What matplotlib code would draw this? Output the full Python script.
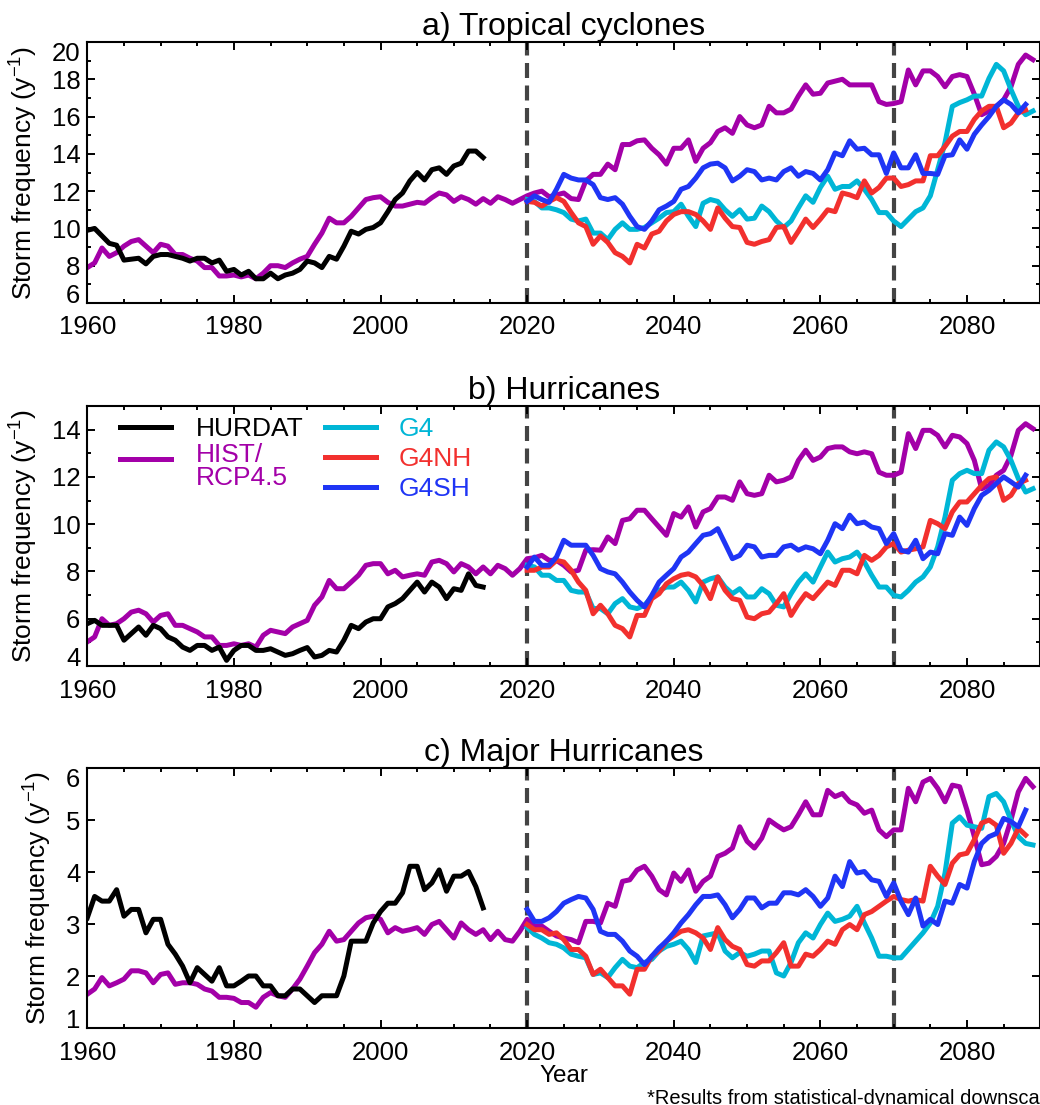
"""
Storm frequency under HIST/RCP4.5 and G4 geoengineering runs.
Three panels: tropical cyclones, hurricanes, major hurricanes.
"""
import numpy as np
import matplotlib
matplotlib.use("Agg")
import matplotlib.pyplot as plt
from matplotlib.legend_handler import HandlerLine2D
from matplotlib.lines import Line2D

plt.rcParams['font.family'] = ['Liberation Sans', 'DejaVu Sans']
plt.rcParams['mathtext.fontset'] = 'custom'
plt.rcParams['mathtext.rm'] = 'Liberation Sans'

YEARS_OBS = np.arange(1960, 2015)
YEARS_HIST = np.arange(1960, 2090)
YEARS_G4 = np.arange(2020, 2090)
YEARS_G4HEM = np.arange(2020, 2089)

# a) tropical cyclones
TC_HURDAT = [9.9, 10.0, 9.6, 9.2, 9.1, 8.3, 8.35, 8.4, 8.1, 8.5,
             8.6, 8.6, 8.5, 8.4, 8.25, 8.4, 8.4, 8.15, 8.3, 7.7,
             7.8, 7.5, 7.7, 7.3, 7.3, 7.6, 7.3, 7.5, 7.6, 7.8,
             8.25, 8.15, 7.9, 8.5, 8.35, 9.05, 9.85, 9.7, 9.95, 10.05,
             10.3, 10.9, 11.55, 11.9, 12.55, 13.0, 12.6, 13.15, 13.25, 12.9,
             13.35, 13.5, 14.15, 14.15, 13.8]
TC_HIST = [7.9, 8.15, 8.95, 8.5, 8.7, 9.05, 9.3, 9.4, 9.05, 8.7,
           9.15, 9.05, 8.6, 8.6, 8.4, 8.25, 7.9, 7.9, 7.45, 7.45,
           7.5, 7.4, 7.5, 7.3, 7.6, 8.0, 8.0, 7.9, 8.15, 8.35,
           8.5, 9.15, 9.75, 10.55, 10.3, 10.3, 10.65, 11.1, 11.55, 11.65,
           11.7, 11.4, 11.2, 11.2, 11.3, 11.4, 11.35, 11.65, 11.9, 11.8,
           11.45, 11.7, 11.55, 11.3, 11.6, 11.35, 11.7, 11.55, 11.35, 11.55,
           11.75, 11.9, 12.0, 11.7, 11.8, 11.9, 11.6, 11.55, 12.55, 12.9,
           12.9, 13.45, 13.15, 14.5, 14.5, 14.7, 14.75, 14.3, 13.95, 13.45,
           14.3, 14.3, 14.75, 13.6, 14.3, 14.6, 15.2, 15.4, 15.1, 16.0,
           15.55, 15.4, 15.55, 16.55, 16.2, 16.2, 16.4, 17.1, 17.7, 17.2,
           17.25, 17.8, 17.9, 18.0, 17.7, 17.7, 17.7, 17.7, 16.8, 16.65,
           16.7, 16.8, 18.5, 17.7, 18.45, 18.45, 18.15, 17.6, 18.15, 18.25,
           18.15, 17.2, 16.1, 16.3, 16.55, 16.9, 17.6, 18.8, 19.3, 19.05]
TC_G4 = [11.55, 11.45, 11.1, 11.1, 11.0, 10.85, 10.5, 10.4, 10.5, 9.75,
         9.75, 9.4, 9.95, 10.3, 9.95, 9.95, 10.05, 10.3, 10.55, 10.85,
         10.9, 11.3, 10.65, 10.1, 11.35, 11.55, 11.45, 11.0, 10.65, 11.0,
         10.5, 10.55, 11.2, 10.9, 10.4, 10.05, 10.4, 11.1, 11.75, 11.4,
         12.2, 12.8, 12.1, 12.25, 12.25, 12.55, 12.1, 11.55, 10.85, 10.85,
         10.4, 10.1, 10.5, 10.9, 11.1, 11.75, 13.15, 14.6, 16.55, 16.75,
         16.9, 17.1, 17.1, 18.05, 18.8, 18.45, 17.45, 16.55, 16.1, 16.3]
TC_G4NH = [11.45, 11.4, 11.2, 11.45, 11.65, 11.45, 10.85, 10.3, 10.1, 9.15,
           9.6, 9.25, 8.7, 8.5, 8.15, 9.15, 8.95, 9.7, 9.85, 10.4,
           10.75, 10.9, 10.9, 10.75, 10.4, 9.95, 11.1, 10.55, 10.1, 10.05,
           9.25, 9.15, 9.3, 9.4, 10.05, 10.1, 9.25, 9.85, 10.5, 10.05,
           10.5, 11.0, 10.9, 11.9, 11.8, 11.65, 12.55, 11.9, 12.2, 12.7,
           12.7, 12.25, 12.35, 12.55, 12.55, 13.9, 13.9, 14.4, 14.95, 15.2,
           15.2, 15.85, 16.3, 16.55, 16.55, 15.4, 15.65, 16.2, 16.35]
TC_G4SH = [11.45, 11.75, 11.55, 11.4, 12.1, 12.9, 12.7, 12.6, 12.6, 12.35,
           11.65, 11.55, 11.65, 11.3, 10.65, 10.1, 9.95, 10.4, 11.0, 11.2,
           11.45, 12.1, 12.25, 12.7, 13.25, 13.45, 13.5, 13.25, 12.55, 12.8,
           13.15, 13.05, 12.6, 12.7, 12.6, 13.05, 13.25, 12.8, 13.05, 12.95,
           12.6, 13.15, 14.05, 13.9, 14.7, 14.25, 14.3, 13.95, 13.95, 12.95,
           14.05, 13.25, 13.25, 13.95, 12.95, 12.95, 12.9, 13.9, 13.95, 14.75,
           14.25, 15.05, 15.55, 16.0, 16.55, 16.9, 16.65, 16.2, 16.65]

# b) hurricanes
HU_HURDAT = [5.79, 5.93, 5.72, 5.72, 5.72, 5.09, 5.37, 5.65, 5.3, 5.72,
             5.58, 5.23, 5.09, 4.8, 4.66, 4.87, 4.87, 4.66, 4.8, 4.24,
             4.66, 4.87, 4.87, 4.66, 4.66, 4.73, 4.59, 4.45, 4.52, 4.66,
             4.78, 4.38, 4.45, 4.66, 4.59, 5.09, 5.72, 5.58, 5.86, 6.0,
             6.0, 6.5, 6.64, 6.85, 7.2, 7.55, 7.13, 7.55, 7.34, 6.85,
             7.27, 7.2, 7.9, 7.41, 7.34]
HU_HIST = [5.02, 5.23, 6.0, 5.72, 5.79, 6.0, 6.28, 6.36, 6.21, 5.86,
           6.14, 6.21, 5.72, 5.72, 5.58, 5.44, 5.23, 5.23, 4.87, 4.87,
           4.94, 4.87, 4.94, 4.8, 5.3, 5.51, 5.44, 5.37, 5.65, 5.79,
           5.93, 6.57, 6.92, 7.62, 7.27, 7.27, 7.55, 7.84, 8.26, 8.33,
           8.33, 7.9, 8.05, 7.77, 7.84, 7.9, 7.84, 8.4, 8.47, 8.33,
           7.98, 8.33, 8.19, 7.9, 8.19, 7.9, 8.26, 8.12, 7.84, 8.12,
           8.54, 8.58, 8.68, 8.47, 8.47, 8.26, 7.98, 8.05, 8.9, 8.92,
           8.9, 9.46, 9.18, 10.16, 10.23, 10.59, 10.59, 10.23, 9.88, 9.53,
           10.45, 10.3, 10.73, 9.88, 10.52, 10.66, 11.15, 11.15, 11.01, 11.79,
           11.29, 11.22, 11.29, 12.07, 11.79, 11.86, 12.0, 12.7, 13.13, 12.7,
           12.84, 13.2, 13.27, 13.27, 13.06, 12.98, 13.06, 12.98, 12.2, 12.07,
           12.07, 12.2, 13.83, 13.2, 13.97, 13.97, 13.76, 13.27, 13.76, 13.69,
           13.41, 12.7, 11.5, 11.64, 12.07, 12.28, 12.91, 13.97, 14.25, 14.04]
HU_G4 = [8.26, 8.19, 7.84, 7.84, 7.62, 7.62, 7.2, 7.13, 7.13, 6.43,
         6.43, 6.21, 6.64, 6.85, 6.5, 6.43, 6.57, 6.92, 7.2, 7.34,
         7.34, 7.55, 7.2, 6.71, 7.55, 7.69, 7.77, 7.34, 7.06, 7.27,
         6.92, 6.92, 7.27, 7.06, 6.57, 6.5, 7.06, 7.55, 7.9, 7.55,
         8.19, 8.82, 8.4, 8.54, 8.61, 8.82, 8.4, 7.84, 7.34, 7.34,
         6.99, 6.92, 7.2, 7.55, 7.77, 8.19, 9.04, 10.3, 11.86, 12.14,
         12.28, 12.14, 12.14, 13.13, 13.48, 13.27, 12.7, 11.93, 11.36, 11.5]
HU_G4NH = [8.05, 8.05, 8.19, 8.19, 8.47, 8.4, 8.05, 7.55, 7.2, 6.21,
           6.57, 6.21, 5.72, 5.58, 5.23, 6.14, 6.14, 6.85, 7.06, 7.48,
           7.69, 7.84, 7.9, 7.77, 7.41, 6.85, 7.77, 7.2, 6.85, 6.78,
           6.07, 6.0, 6.21, 6.28, 6.64, 7.06, 6.14, 6.64, 7.06, 6.85,
           7.2, 7.55, 7.41, 8.05, 8.05, 7.9, 8.68, 8.47, 8.68, 9.04,
           9.18, 8.82, 8.9, 8.96, 9.04, 10.16, 10.02, 9.81, 10.52, 10.94,
           10.94, 11.29, 11.64, 11.93, 12.0, 11.01, 11.22, 11.72, 11.86]
HU_G4SH = [8.19, 8.61, 8.26, 8.26, 8.61, 9.32, 9.11, 9.11, 9.11, 8.68,
           8.12, 7.98, 7.9, 7.55, 7.13, 6.78, 6.5, 6.99, 7.55, 7.84,
           8.12, 8.61, 8.82, 9.18, 9.53, 9.6, 9.81, 9.18, 8.54, 8.68,
           9.11, 9.04, 8.61, 8.68, 8.68, 9.04, 9.11, 8.9, 9.04, 8.96,
           8.75, 9.32, 10.02, 9.81, 10.38, 10.02, 10.09, 9.88, 9.81, 9.18,
           9.6, 8.9, 8.82, 9.32, 8.54, 8.82, 8.75, 9.6, 9.53, 10.3,
           9.95, 10.66, 11.22, 11.43, 11.72, 12.0, 11.79, 11.57, 12.07]

# c) major hurricanes
MH_HURDAT = [3.12, 3.53, 3.44, 3.44, 3.66, 3.15, 3.28, 3.28, 2.83, 3.09,
             3.09, 2.61, 2.42, 2.19, 1.87, 2.16, 2.03, 1.9, 2.16, 1.81,
             1.81, 1.9, 2.0, 2.0, 1.81, 1.81, 1.62, 1.62, 1.75, 1.75,
             1.62, 1.49, 1.62, 1.62, 1.62, 2.0, 2.67, 2.67, 2.67, 3.02,
             3.24, 3.4, 3.4, 3.6, 4.11, 4.11, 3.66, 3.79, 4.04, 3.63,
             3.92, 3.92, 4.01, 3.72, 3.31]
MH_HIST = [1.65, 1.75, 1.97, 1.81, 1.87, 1.94, 2.1, 2.1, 2.06, 1.87,
           2.03, 2.06, 1.84, 1.87, 1.87, 1.84, 1.75, 1.71, 1.59, 1.59,
           1.57, 1.49, 1.49, 1.4, 1.59, 1.68, 1.62, 1.59, 1.75, 1.94,
           2.19, 2.45, 2.61, 2.86, 2.67, 2.7, 2.86, 3.02, 3.12, 3.15,
           3.09, 2.83, 2.93, 2.86, 2.89, 2.93, 2.8, 2.99, 3.05, 2.89,
           2.73, 3.02, 2.89, 2.8, 2.89, 2.7, 2.86, 2.7, 2.67, 2.86,
           3.09, 2.96, 2.96, 2.86, 2.77, 2.73, 2.7, 2.64, 3.05, 3.05,
           3.02, 3.4, 3.34, 3.82, 3.85, 4.04, 4.11, 3.92, 3.66, 3.56,
           3.98, 3.82, 4.04, 3.63, 3.82, 3.92, 4.3, 4.36, 4.46, 4.87,
           4.59, 4.46, 4.65, 5.0, 4.9, 4.81, 4.87, 5.1, 5.35, 5.1,
           5.1, 5.57, 5.45, 5.51, 5.35, 5.29, 5.13, 5.19, 4.81, 4.68,
           4.81, 4.81, 5.61, 5.35, 5.73, 5.8, 5.61, 5.35, 5.67, 5.64,
           5.19, 4.68, 4.14, 4.17, 4.3, 4.55, 5.0, 5.54, 5.8, 5.64]
MH_G4 = [2.93, 2.8, 2.73, 2.64, 2.61, 2.54, 2.42, 2.38, 2.35, 2.03,
         2.06, 1.97, 2.16, 2.32, 2.19, 2.16, 2.26, 2.32, 2.48, 2.57,
         2.61, 2.67, 2.51, 2.26, 2.77, 2.8, 2.83, 2.48, 2.35, 2.45,
         2.38, 2.42, 2.48, 2.48, 2.06, 2.0, 2.26, 2.64, 2.83, 2.73,
         2.99, 3.21, 3.05, 3.09, 3.15, 3.34, 3.02, 2.73, 2.38, 2.38,
         2.35, 2.35, 2.51, 2.67, 2.83, 3.02, 3.34, 3.98, 4.94, 5.06,
         4.9, 4.87, 4.84, 5.45, 5.51, 5.35, 5.0, 4.68, 4.55, 4.52]
MH_G4NH = [2.99, 2.89, 2.89, 2.8, 2.83, 2.7, 2.51, 2.51, 2.38, 2.03,
           2.13, 1.97, 1.81, 1.81, 1.65, 2.13, 2.13, 2.38, 2.48, 2.67,
           2.77, 2.86, 2.89, 2.83, 2.73, 2.51, 2.93, 2.7, 2.57, 2.51,
           2.22, 2.19, 2.29, 2.29, 2.45, 2.64, 2.19, 2.19, 2.42, 2.38,
           2.51, 2.67, 2.61, 2.89, 2.99, 2.89, 3.18, 3.24, 3.34, 3.44,
           3.53, 3.47, 3.44, 3.47, 3.44, 4.11, 3.92, 3.76, 4.17, 4.33,
           4.36, 4.62, 4.94, 5.0, 4.9, 4.36, 4.55, 4.84, 4.71]
MH_G4SH = [3.28, 3.05, 3.05, 3.12, 3.24, 3.4, 3.47, 3.53, 3.5, 3.28,
           2.86, 2.8, 2.8, 2.67, 2.48, 2.38, 2.22, 2.38, 2.54, 2.67,
           2.83, 3.02, 3.18, 3.37, 3.53, 3.53, 3.56, 3.37, 3.12, 3.28,
           3.5, 3.5, 3.31, 3.4, 3.4, 3.6, 3.6, 3.56, 3.66, 3.53,
           3.34, 3.5, 3.92, 3.72, 4.2, 3.98, 4.01, 3.85, 3.82, 3.53,
           3.79, 3.44, 3.18, 3.5, 2.96, 3.09, 2.99, 3.44, 3.4, 3.76,
           3.69, 4.2, 4.55, 4.68, 4.74, 5.03, 4.97, 4.87, 5.19]

TITLES = ["a) Tropical cyclones", "b) Hurricanes", "c) Major Hurricanes"]
YLIMS = [(6, 20), (4, 15), (1, 6)]
YSTEPS = [(2, 1), (2, 1), (1, None)]
SWITCH_YEARS = [2020, 2070]

C_HURDAT = 'black'
C_HIST = '#a300a8'
C_G4 = '#00b6d6'
C_G4NH = '#f2302e'
C_G4SH = '#1f35f5'
LW = 3.6


class FirstLineHandler(HandlerLine2D):
    """Put the legend line next to the first line of a two-line label."""
    def create_artists(self, legend, orig_handle, xdescent, ydescent,
                       width, height, fontsize, trans):
        artists = super().create_artists(legend, orig_handle, xdescent, ydescent,
                                         width, height, fontsize, trans)
        for art in artists:
            art.set_ydata(np.asarray(art.get_ydata()) + 0.29 * fontsize)
        return artists


def draw_panel(ax, title, ylim, ysteps, hurdat, hist, g4, g4nh, g4sh):
    ax.plot(YEARS_HIST, hist, color=C_HIST, lw=LW)
    ax.plot(YEARS_OBS, hurdat, color=C_HURDAT, lw=LW)
    ax.plot(YEARS_G4, g4, color=C_G4, lw=LW)
    ax.plot(YEARS_G4HEM, g4nh, color=C_G4NH, lw=LW)
    ax.plot(YEARS_G4HEM, g4sh, color=C_G4SH, lw=LW)
    for yr in SWITCH_YEARS:
        ax.axvline(yr, color='#444444', lw=3.0, ls=(0, (3.6, 1.8)), zorder=1)

    ax.set_xlim(1960, 2090)
    ax.set_ylim(*ylim)
    ax.set_xticks(np.arange(1960, 2081, 20))
    ax.set_xticks(np.arange(1960, 2091, 5), minor=True)
    major, minor = ysteps
    ax.set_yticks(np.arange(ylim[0], ylim[1] + 0.01, major))
    if minor:
        ax.set_yticks(np.arange(ylim[0], ylim[1] + 0.01, minor), minor=True)
    ax.tick_params(which='both', direction='in', top=True, right=True,
                   width=1.4, labelsize=18.5)
    ax.tick_params(which='major', length=6)
    ax.tick_params(which='minor', length=3.2)
    ax.tick_params(axis='x', pad=9)
    ax.tick_params(axis='y', pad=5)
    for sp in ax.spines.values():
        sp.set_linewidth(1.5)

    # end labels sit inside the axis range, as in the original
    ylabels = ax.get_yticklabels()
    ylabels[0].set_verticalalignment('baseline')
    if ax.get_yticks()[-1] == ylim[1]:
        ylabels[-1].set_verticalalignment('top')

    ax.set_title(title, fontsize=23, pad=5)
    ax.set_ylabel("Storm frequency (y$^{\\mathrm{-1}}$)", fontsize=19, labelpad=9)


fig = plt.figure(figsize=(10.4, 11.05), dpi=100)
LEFT = 87.3 / 1040
WIDTH = 953 / 1040
ax1 = fig.add_axes([LEFT, 1 - 303 / 1105, WIDTH, 261 / 1105])
ax2 = fig.add_axes([LEFT, 1 - 666 / 1105, WIDTH, 260 / 1105])
ax3 = fig.add_axes([LEFT, 1 - 1028 / 1105, WIDTH, 260 / 1105])

draw_panel(ax1, TITLES[0], YLIMS[0], YSTEPS[0], TC_HURDAT, TC_HIST, TC_G4, TC_G4NH, TC_G4SH)
draw_panel(ax2, TITLES[1], YLIMS[1], YSTEPS[1], HU_HURDAT, HU_HIST, HU_G4, HU_G4NH, HU_G4SH)
draw_panel(ax3, TITLES[2], YLIMS[2], YSTEPS[2], MH_HURDAT, MH_HIST, MH_G4, MH_G4NH, MH_G4SH)

ax3.set_xlabel("Year", fontsize=17.5, labelpad=0)

# legend, two columns, in panel b
h_hurdat = Line2D([], [], color=C_HURDAT, lw=LW)
h_hist = Line2D([], [], color=C_HIST, lw=LW)
leg1 = ax2.legend([h_hurdat, h_hist], ["HURDAT", "HIST/\nRCP4.5"],
                  loc='upper left', bbox_to_anchor=(0.034, 0.956),
                  frameon=False, fontsize=19, handlelength=1.95,
                  handletextpad=0.95, borderpad=0, borderaxespad=0,
                  labelspacing=0.07, labelcolor='linecolor',
                  handler_map={h_hist: FirstLineHandler()})
leg1.get_texts()[1].set_linespacing(0.95)
ax2.add_artist(leg1)
h_g4 = Line2D([], [], color=C_G4, lw=LW)
h_nh = Line2D([], [], color=C_G4NH, lw=LW)
h_sh = Line2D([], [], color=C_G4SH, lw=LW)
ax2.legend([h_g4, h_nh, h_sh], ["G4", "G4NH", "G4SH"],
           loc='upper left', bbox_to_anchor=(0.249, 0.956),
           frameon=False, fontsize=19, handlelength=1.95,
           handletextpad=0.85, borderpad=0, borderaxespad=0,
           labelspacing=0.22, labelcolor='linecolor')

fig.text(647 / 1040, 1 - 1104 / 1105, "*Results from statistical-dynamical downscaling",
         fontsize=14.5, ha='left', va='baseline')

fig.savefig("out.png", dpi=100)
